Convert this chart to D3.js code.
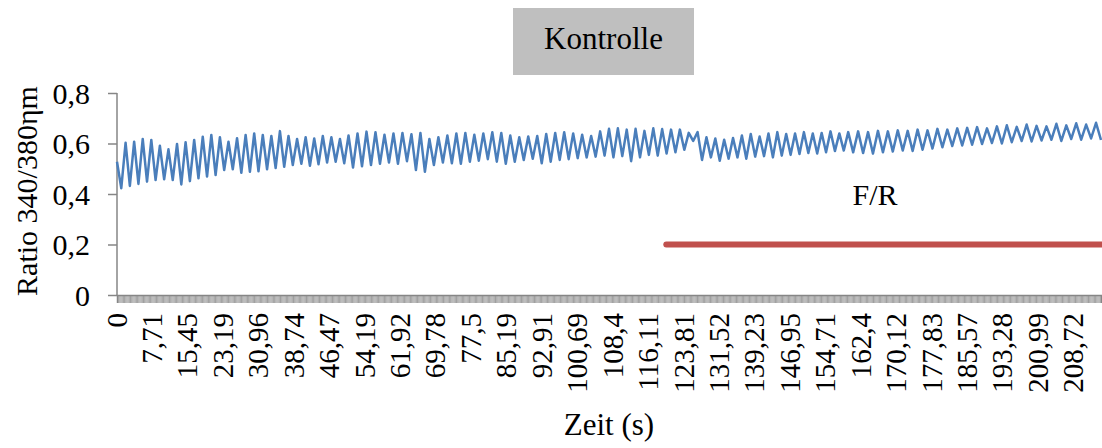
<!DOCTYPE html>
<html>
<head>
<meta charset="utf-8">
<script src="https://cdn.jsdelivr.net/npm/d3@7"></script>
<style>
  body { margin: 0; background: #fff; }
  text { font-family: "Liberation Serif", "Times New Roman", serif; fill: #000; }
</style>
</head>
<body>
<script>
// data
var sampleCount = 834;            // categories on the x axis
var labelStep = 30;               // one label every 30 samples
var tickLabels = ['0', '7,71', '15,45', '23,19', '30,96', '38,74', '46,47', '54,19', '61,92',
  '69,78', '77,5', '85,19', '92,91', '100,69', '108,4', '116,11', '123,81', '131,52', '139,23',
  '146,95', '154,71', '162,4', '170,12', '177,83', '185,57', '193,28', '200,99', '208,72'];
var yTicks = [0, 0.2, 0.4, 0.6, 0.8];
var yTickLabels = ['0', '0,2', '0,4', '0,6', '0,8'];

// ratio trace, successive troughs and peaks
var ratio = [0.528,
  0.423, 0.603, 0.432, 0.607, 0.440, 0.618, 0.449, 0.614, 0.455, 0.591, 0.458, 0.577,
  0.455, 0.598, 0.438, 0.605, 0.451, 0.614, 0.462, 0.627, 0.469, 0.634, 0.475, 0.625,
  0.495, 0.607, 0.498, 0.621, 0.484, 0.634, 0.488, 0.640, 0.490, 0.634, 0.498, 0.630,
  0.503, 0.649, 0.508, 0.630, 0.515, 0.618, 0.520, 0.625, 0.512, 0.620, 0.518, 0.630,
  0.525, 0.625, 0.528, 0.618, 0.522, 0.632,
  0.505, 0.640, 0.510, 0.647, 0.515, 0.645, 0.520, 0.635, 0.525, 0.640, 0.520, 0.642,
  0.530, 0.637, 0.495, 0.642, 0.488, 0.618, 0.515, 0.625, 0.525, 0.632, 0.522, 0.640,
  0.520, 0.642, 0.528, 0.635, 0.532, 0.640, 0.538, 0.645, 0.528, 0.642, 0.520, 0.632,
  0.528, 0.625, 0.535, 0.628, 0.540, 0.630, 0.522, 0.638, 0.528, 0.642, 0.535, 0.645,
  0.538, 0.640, 0.542, 0.635, 0.545, 0.630, 0.548, 0.648,
  0.552, 0.658, 0.545, 0.660, 0.550, 0.655, 0.530, 0.658, 0.545, 0.650, 0.555, 0.660,
  0.552, 0.657, 0.560, 0.655, 0.565, 0.655, 0.575, 0.642, 0.610, 0.645, 0.535, 0.625,
  0.545, 0.620, 0.532, 0.615, 0.540, 0.622, 0.545, 0.632, 0.540, 0.638, 0.548, 0.628,
  0.550, 0.640, 0.545, 0.645, 0.552, 0.638, 0.555, 0.640, 0.558, 0.645, 0.562, 0.640,
  0.560, 0.642, 0.565, 0.648, 0.570, 0.640, 0.572, 0.645,
  0.565, 0.648, 0.562, 0.645, 0.560, 0.650, 0.565, 0.648, 0.568, 0.652, 0.572, 0.650,
  0.570, 0.655, 0.575, 0.652, 0.580, 0.658, 0.585, 0.655, 0.590, 0.660, 0.592, 0.662,
  0.595, 0.665, 0.598, 0.660, 0.602, 0.668, 0.600, 0.672, 0.605, 0.666, 0.610, 0.675,
  0.608, 0.670, 0.612, 0.668, 0.615, 0.678, 0.610, 0.672, 0.618, 0.680, 0.615, 0.675,
  0.620, 0.682, 0.614];
// where some of those points sit on the sample axis
var anchorPoint = [0, 54, 110, 166, 217];
var anchorSample = [0, 196, 409, 619, 833];

// F/R marker series (sample index, value)
var frIndex = [465, 833];
var frValues = [0.2, 0.2];

var W = 1102, H = 448;
var plotLeft = 117, plotRight = 1101, plotTop = 93, plotBottom = 295;
var axisColor = '#868686';

var svg = d3.select('body').append('svg')
  .attr('width', W)
  .attr('height', H);

var x = d3.scaleLinear().domain([0, sampleCount - 1]).range([plotLeft, plotRight]);
var y = d3.scaleLinear().domain([0, 0.8]).range([plotBottom, plotTop]);
var pointToSample = d3.scaleLinear().domain(anchorPoint).range(anchorSample);

// title box
svg.append('rect')
  .attr('x', 513).attr('y', 8)
  .attr('width', 181).attr('height', 67)
  .attr('fill', '#bfbfbf');
svg.append('text')
  .attr('x', 603.5).attr('y', 49)
  .attr('text-anchor', 'middle')
  .style('font-size', '31px')
  .text('Kontrolle');

// y axis
var yAxis = svg.append('g')
  .attr('transform', 'translate(' + plotLeft + ',0)')
  .call(d3.axisLeft(y).tickValues(yTicks).tickSize(9).tickFormat(''));
yAxis.selectAll('.domain').attr('stroke', axisColor).attr('stroke-width', 1.5)
  .attr('d', 'M0,' + plotTop + 'V' + plotBottom);
yAxis.selectAll('.tick line').attr('stroke', axisColor).attr('stroke-width', 1.5);

svg.selectAll('text.ylab')
  .data(yTicks)
  .enter().append('text')
  .attr('class', 'ylab')
  .attr('x', 90)
  .attr('y', function(d) { return y(d) + 10.5; })
  .attr('text-anchor', 'end')
  .style('font-size', '30px')
  .text(function(d, i) { return yTickLabels[i]; });

// x axis, one tick per sample
var xAxis = svg.append('g')
  .attr('transform', 'translate(0,' + plotBottom + ')')
  .call(d3.axisBottom(x).tickValues(d3.range(sampleCount)).tickSize(8).tickFormat(''));
xAxis.selectAll('.domain').attr('stroke', axisColor).attr('stroke-width', 1.5);
xAxis.selectAll('.tick line').attr('stroke', axisColor).attr('stroke-width', 0.8);

svg.selectAll('text.xlab')
  .data(tickLabels)
  .enter().append('text')
  .attr('class', 'xlab')
  .attr('transform', function(d, i) { return 'translate(' + (x(i * labelStep) + 9.5) + ',313) rotate(-90)'; })
  .attr('text-anchor', 'end')
  .style('font-size', '29px')
  .text(function(d) { return d; });

// axis titles
svg.append('text')
  .attr('transform', 'translate(37,191) rotate(-90)')
  .attr('text-anchor', 'middle')
  .style('font-size', '30px')
  .text('Ratio 340/380ηm');

svg.append('text')
  .attr('x', 609).attr('y', 435)
  .attr('text-anchor', 'middle')
  .style('font-size', '31px')
  .text('Zeit (s)');

// ratio line
var line = d3.line()
  .x(function(d, i) { return x(pointToSample(i)); })
  .y(function(d) { return y(d); });

svg.append('path')
  .datum(ratio)
  .attr('d', line)
  .attr('fill', 'none')
  .attr('stroke', '#4a7ebb')
  .attr('stroke-width', 2.5)
  .attr('stroke-linejoin', 'round');

// F/R line
svg.append('path')
  .datum(frValues)
  .attr('d', d3.line()
    .x(function(d, i) { return x(frIndex[i]); })
    .y(function(d) { return y(d); }))
  .attr('fill', 'none')
  .attr('stroke', '#c0504d')
  .attr('stroke-width', 6)
  .attr('stroke-linecap', 'round');

svg.append('text')
  .attr('x', 875).attr('y', 205)
  .attr('text-anchor', 'middle')
  .style('font-size', '30px')
  .text('F/R');
</script>
</body>
</html>
